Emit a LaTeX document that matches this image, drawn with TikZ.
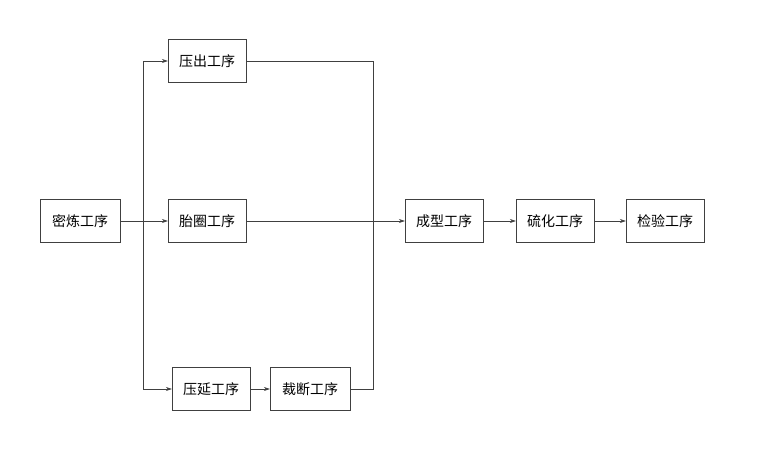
\documentclass[tikz,border=0pt]{standalone}
\usepackage{fontspec}
\setmainfont{Noto Sans CJK SC}
\usetikzlibrary{arrows.meta}
\begin{document}
\begin{tikzpicture}[x=1pt,y=-1pt,
  box/.style={draw=black!75,fill=white,minimum height=43pt,inner sep=2pt,font=\fontsize{14}{16}\selectfont},
  ln/.style={draw=black!75,line width=0.6pt},
  ar/.style={ln,-{Stealth[length=6pt,width=4pt]}}]
\useasboundingbox (0,0) rectangle (762,453);
\node[box,minimum width=80pt] (a) at (80,221) {密炼工序};
\node[box,minimum width=78pt] (b) at (207,61) {压出工序};
\node[box,minimum width=78pt] (c) at (207,221) {胎圈工序};
\node[box,minimum width=78pt] (d) at (211,389) {压延工序};
\node[box,minimum width=80pt] (e) at (310,389) {裁断工序};
\node[box,minimum width=78pt] (f) at (444,221) {成型工序};
\node[box,minimum width=78pt] (g) at (555,221) {硫化工序};
\node[box,minimum width=78pt] (h) at (665,221) {检验工序};
\coordinate (s) at (143,221);
\coordinate (m) at (373,221);
\draw[ln] (a) -- (s);
\draw[ar] (s) |- (b);
\draw[ar] (s) -- (c);
\draw[ar] (s) |- (d);
\draw[ar] (d) -- (e);
\draw[ln] (b.east) -| (m);
\draw[ln] (e.east) -| (m);
\draw[ar] (c) -- (f);
\draw[ar] (f) -- (g);
\draw[ar] (g) -- (h);
\end{tikzpicture}
\end{document}
